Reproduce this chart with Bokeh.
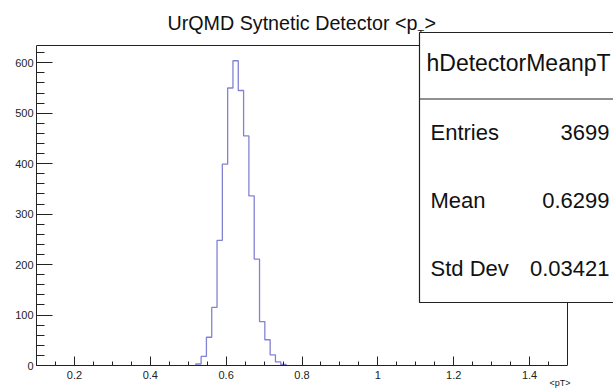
from bokeh.plotting import figure
from bokeh.models import (Range1d, SingleIntervalTicker, FixedTicker,
                          CustomJSTickFormatter, LinearAxis)
from bokeh.core.properties import value
from bokeh.embed import file_html
from bokeh.resources import INLINE

# ---- data ----
bin_width = 0.014
bin_low = [0.520, 0.534, 0.548, 0.562, 0.576, 0.590, 0.604, 0.618, 0.632,
           0.646, 0.660, 0.674, 0.688, 0.702, 0.716, 0.730, 0.744]
counts = [3, 18, 56, 115, 248, 399, 550, 604, 545,
          455, 336, 211, 87, 51, 21, 7, 2]
x_min, x_max = 0.1, 1.5
y_max = 634.2
title_main = "UrQMD Sytnetic Detector <p"
title_sub = "T"
title_end = ">"
x_title = "<pT>"
stats_name = "hDetectorMeanpT"
stats_labels = ["Entries", "Mean", "Std Dev"]
stats_values = ["3699", "0.6299", "0.03421"]

# ---- layout in canvas pixels ----
W, H = 613, 392
FL, FR, FT, FB = 36, 613, 0, 365          # bokeh frame
PL, PR, PT = 36, 567, 45                   # visible ROOT frame
XS = (PR - PL) / (x_max - x_min)
YS = (FB - PT) / y_max
x_end = x_min + (FR - FL) / XS
y_end = (FB - FT) / YS

def px_x(px):
    return x_min + (px - FL) / XS

def px_y(py):
    return (FB - py) / YS

def base(py, fs):
    # bokeh places alphabetic text a bit lower than the requested baseline
    return px_y(py - 0.41 * fs)

FONT = "Liberation Sans"
TXT = "#111111"

p = figure(width=W, height=H, output_backend="svg", toolbar_location=None,
           x_range=Range1d(x_min, x_end), y_range=Range1d(0, y_end),
           min_border_left=FL, min_border_right=W - FR, min_border_top=FT,
           min_border_bottom=H - FB)
p.outline_line_color = None
p.xgrid.visible = False
p.ygrid.visible = False
p.background_fill_color = "white"
p.border_fill_color = "white"

AX = "#222222"
p.xaxis.ticker = SingleIntervalTicker(interval=0.2, num_minor_ticks=4)
p.xaxis.bounds = (x_min, x_max)
p.xaxis.formatter = CustomJSTickFormatter(code="return Number(tick.toFixed(2)).toString();")
p.xaxis.major_tick_in = 9
p.xaxis.major_tick_out = 0
p.xaxis.minor_tick_in = 4
p.xaxis.minor_tick_out = 0
p.xaxis.major_label_standoff = 5
p.yaxis.ticker = SingleIntervalTicker(interval=100, num_minor_ticks=5)
p.yaxis.bounds = (0, y_max)
p.yaxis.major_tick_in = 16
p.yaxis.major_tick_out = 0
p.yaxis.minor_tick_in = 8
p.yaxis.minor_tick_out = 0
p.yaxis.major_label_standoff = 3
for ax in (p.xaxis, p.yaxis):
    ax.axis_line_color = AX
    ax.major_tick_line_color = AX
    ax.minor_tick_line_color = AX
    ax.major_label_text_font = FONT
    ax.major_label_text_font_size = "11px"
    ax.major_label_text_color = AX

# axis title, right-aligned under the axis end
ax2 = LinearAxis(ticker=FixedTicker(ticks=[px_x(559.5)]),
                 formatter=CustomJSTickFormatter(code='return "%s";' % x_title),
                 major_tick_in=0, major_tick_out=0, minor_tick_in=0, minor_tick_out=0,
                 axis_line_color=None, major_label_standoff=-4,
                 major_label_text_font=FONT, major_label_text_font_size="9px",
                 major_label_text_color=AX)
p.add_layout(ax2, "below")

# ---- histogram outline ----
xs = [bin_low[0]]
ys = [0]
for lo, c in zip(bin_low, counts):
    xs += [lo, lo + bin_width]
    ys += [c, c]
xs.append(bin_low[-1] + bin_width)
ys.append(0)
p.line(xs, ys, line_color="#8282d4", line_width=1.3)

# ---- frame top / right ----
p.line([x_min, x_max, x_max], [y_max, y_max, 0], line_color=AX, line_width=1)

# ---- title ----
p.text(x=[px_x(167)], y=[base(31, 19.7)], text=[title_main], text_font=value(FONT),
       text_font_size="19.7px", text_color=TXT, text_baseline="alphabetic")
p.text(x=[px_x(417)], y=[base(38, 11)], text=[title_sub], text_font=value(FONT),
       text_font_size="11px", text_color=TXT, text_baseline="alphabetic")
p.text(x=[px_x(424)], y=[base(31, 19.7)], text=[title_end], text_font=value(FONT),
       text_font_size="19.7px", text_color=TXT, text_baseline="alphabetic")

# ---- stats box ----
BL, BT, BB = 419, 32, 302
p.quad(left=[px_x(BL)], right=[px_x(W + 20)], top=[px_y(BT)], bottom=[px_y(BB)],
       fill_color="white", line_color=AX, line_width=1.2)
p.line([px_x(BL), px_x(W + 20)], [px_y(98.5), px_y(98.5)], line_color=AX, line_width=1.2)
p.text(x=[px_x(426)], y=[base(71.7, 23)], text=[stats_name], text_font=value(FONT),
       text_font_size="23px", text_color=TXT, text_baseline="alphabetic")
row_base = [141, 209.5, 277]
p.text(x=[px_x(430)] * 3, y=[base(b, 22) for b in row_base], text=stats_labels,
       text_font=value(FONT), text_font_size="22px", text_color=TXT,
       text_baseline="alphabetic")
p.text(x=[px_x(609)] * 3, y=[base(b, 22) for b in row_base], text=stats_values,
       text_font=value(FONT), text_font_size="22px", text_color=TXT,
       text_baseline="alphabetic", text_align="right")

open("out.html", "w").write(file_html(p, INLINE))
